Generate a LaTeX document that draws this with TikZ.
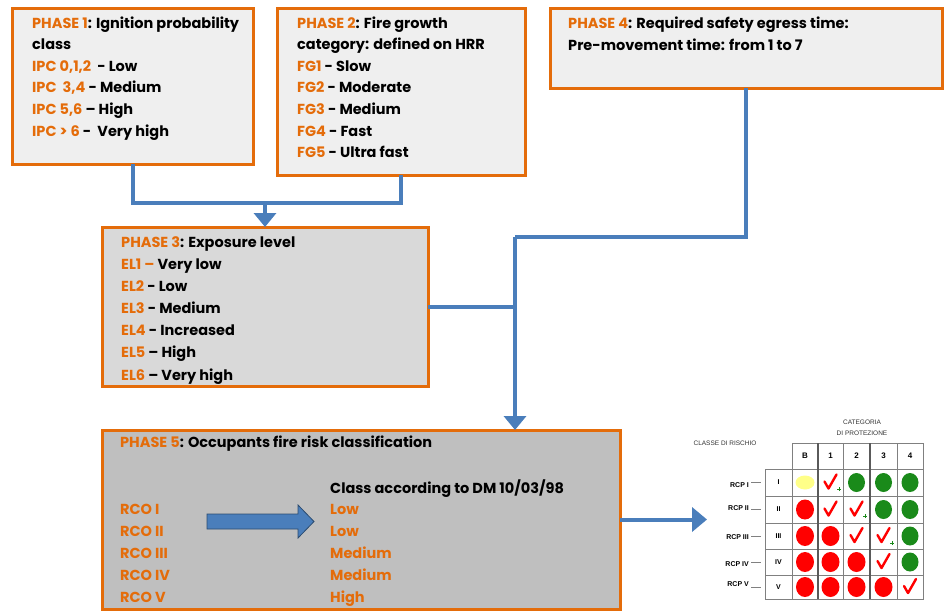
\documentclass[tikz,border=0pt]{standalone}
\usepackage{fontspec}
\setmainfont{Poppins}
\newfontfamily\tabfont{Liberation Sans}
\usetikzlibrary{arrows.meta}
\definecolor{orng}{HTML}{E46C0A}
\definecolor{blu}{HTML}{4A7EBB}
\definecolor{lgray}{HTML}{EFEFEF}
\definecolor{mgray}{HTML}{D9D9D9}
\definecolor{dgray}{HTML}{BFBFBF}
\definecolor{grn}{HTML}{1A8A1A}
\definecolor{ylw}{HTML}{FFFF88}
\definecolor{gridc}{HTML}{808080}
\tikzset{
  box/.style={draw=orng, line width=3pt, anchor=north west, inner sep=0pt, outer sep=0pt},
  conn/.style={draw=blu, line width=4pt},
  arr/.style={conn, -{Triangle[width=22pt,length=14pt]}},
  tx/.style={anchor=base west, inner sep=0pt, font=\fontsize{14.5}{16}\selectfont\bfseries},
  otx/.style={tx, text=orng},
  tsm/.style={inner sep=0pt, font=\tabfont\fontsize{6.5}{7}\selectfont, text=black!80},
  tbd/.style={inner sep=0pt, font=\tabfont\fontsize{8}{9}\selectfont\bfseries},
  tlab/.style={inner sep=0pt, font=\tabfont\fontsize{7}{8}\selectfont\bfseries},
  redtick/.pic={\draw[red, line width=2.4pt, line cap=round, line join=round] (-6pt,1pt) -- (-2pt,-6pt) -- (6pt,8pt);},
  plusmark/.pic={\draw[grn, line width=0.9pt] (-2pt,0pt) -- (2pt,0pt) (0pt,-2pt) -- (0pt,2pt);},
}
\begin{document}
\begin{tikzpicture}[x=1pt,y=-1pt]
\useasboundingbox (0,0) rectangle (944,611);

% boxes
\node[box, fill=lgray, minimum width=241pt, minimum height=156pt] (b1) at (12,8) {};
\node[box, fill=lgray, minimum width=248pt, minimum height=167pt] (b2) at (277,8) {};
\node[box, fill=lgray, minimum width=392pt, minimum height=80pt] (b4) at (550,8) {};
\node[box, fill=mgray, minimum width=326pt, minimum height=159pt] (b3) at (102,227) {};
\node[box, fill=dgray, minimum width=518pt, minimum height=179pt] (b5) at (102,430) {};

% phase 1 text
\node[tx] (p1a) at (32,28) {\textcolor{orng}{PHASE 1}: Ignition probability};
\node[tx] (p1b) at (32,49.6) {class};
\node[tx] (p1c) at (32,71.2) {\textcolor{orng}{IPC 0,1,2}\ \ - Low};
\node[tx] (p1d) at (32,92.8) {\textcolor{orng}{IPC\ \ 3,4} - Medium};
\node[tx] (p1e) at (32,114.4) {\textcolor{orng}{IPC 5,6} – High};
\node[tx] (p1f) at (32,136) {\textcolor{orng}{IPC > 6} -\ \ Very high};

% phase 2 text
\node[tx] (p2a) at (297,28) {\textcolor{orng}{PHASE 2}: Fire growth};
\node[tx] (p2b) at (297,49.6) {category: defined on HRR};
\node[tx] (p2c) at (297,71.2) {\textcolor{orng}{FG1} - Slow};
\node[tx] (p2d) at (297,92.8) {\textcolor{orng}{FG2} - Moderate};
\node[tx] (p2e) at (297,114.4) {\textcolor{orng}{FG3} - Medium};
\node[tx] (p2f) at (297,136) {\textcolor{orng}{FG4} - Fast};
\node[tx] (p2g) at (297,157.6) {\textcolor{orng}{FG5} - Ultra fast};

% phase 4 text
\node[tx] (p4a) at (568,28) {\textcolor{orng}{PHASE 4}: Required safety egress time:};
\node[tx] (p4b) at (568,50) {Pre-movement time: from 1 to 7};

% phase 3 text
\node[tx] (p3a) at (121,247) {\textcolor{orng}{PHASE 3}: Exposure level};
\node[tx] (p3b) at (121,269) {\textcolor{orng}{EL1 –} Very low};
\node[tx] (p3c) at (121,291) {\textcolor{orng}{EL2} - Low};
\node[tx] (p3d) at (121,313) {\textcolor{orng}{EL3} - Medium};
\node[tx] (p3e) at (121,335) {\textcolor{orng}{EL4} - Increased};
\node[tx] (p3f) at (121,357) {\textcolor{orng}{EL5} – High};
\node[tx] (p3g) at (121,380) {\textcolor{orng}{EL6} – Very high};

% phase 5 text
\node[tx] (p5a) at (120,447) {\textcolor{orng}{PHASE 5}: Occupants fire risk classification};
\node[tx] (p5b) at (330,493) {Class according to DM 10/03/98};
\node[otx] (r1) at (120,514) {RCO I};
\node[otx] (r2) at (120,536) {RCO II};
\node[otx] (r3) at (120,558) {RCO III};
\node[otx] (r4) at (120,580) {RCO IV};
\node[otx] (r5) at (120,602) {RCO V};
\node[otx] (c1) at (330,514) {Low};
\node[otx] (c2) at (330,536) {Low};
\node[otx] (c3) at (330,558) {Medium};
\node[otx] (c4) at (330,580) {Medium};
\node[otx] (c5) at (330,602) {High};

% block arrow
\filldraw[fill=blu, draw=blu!60!black, line width=0.8pt, line join=miter]
  (207,514) -- (298,514) -- (298,505) -- (314,521.5) -- (298,538) -- (298,529) -- (207,529) -- cycle;

% connectors
\coordinate (j1) at (265,203);
\draw[conn] (b1.south) |- (j1) -| (b2.south);
\draw[arr] (j1) -- (b3.north);
\coordinate (j2) at (515,237);
\draw[conn] (b4.south) |- (j2);
\draw[arr] (j2) -- (j2 |- b5.north);
\draw[conn] (b3.east) -- (b3.east -| j2);
\coordinate (tabin) at (707,519.5);
\draw[arr, -{Triangle[width=24pt,length=15pt]}] (b5.east) -- (tabin);

% table picture
\node[tsm] (cat1) at (862,422) {CATEGORIA};
\node[tsm] (cat2) at (862,433) {DI PROTEZIONE};
\node[tsm] (cls) at (725,443) {CLASSE DI RISCHIO};
\fill[white] (765,443) rectangle (923,599);
\draw[gridc, line width=0.6pt] (792,443) rectangle (923,599) (765,469) rectangle (923,599);
\foreach \yy in {496,523,549,575} \draw[gridc, line width=0.6pt] (765,\yy) -- (923,\yy);
\foreach \xx in {843,897} \draw[gridc, line width=0.6pt] (\xx,443) -- (\xx,599);
\foreach \xx in {818,870} \draw[gridc!70!black, line width=1.1pt] (\xx,443) -- (\xx,599);
\node[tbd] (hB) at (805,456) {B};
\node[tbd] (h1) at (830.5,456) {1};
\node[tbd] (h2) at (856.5,456) {2};
\node[tbd] (h3) at (883.5,456) {3};
\node[tbd] (h4) at (910,456) {4};
\foreach \n/\lab/\yy/\ly in {1/I/482.5/485,2/II/509.5/508,3/III/536/537,4/IV/562/564,5/V/587/584}{
  \node[tlab] (rom\n) at (778.5,\yy) {\lab};
  \node[tlab, anchor=east] (rcp\n) at (749,\ly) {RCP \lab};
  \draw[gridc, line width=0.6pt] (751,\yy) -- (761,\yy);
}
% cells
\fill[ylw] (805,482.5) ellipse [x radius=9.5pt, y radius=7pt];
\foreach \cx/\cy in {856.5/482.5,883.5/482.5,910/482.5,883.5/509.5,910/509.5,910/536,910/562}
  \fill[grn] (\cx,\cy) ellipse [x radius=8.5pt, y radius=9.5pt];
\foreach \cx/\cy in {805/509.5,805/536,830.5/536,805/562,830.5/562,856.5/562,805/587,830.5/587,856.5/587,883.5/587}
  \fill[red] (\cx,\cy) ellipse [x radius=9pt, y radius=10pt];
\foreach \cx/\cy in {830.5/482.5,830.5/509.5,856.5/509.5,856.5/536,883.5/536,883.5/562,910/587}
  \pic at (\cx,\cy) {redtick};
\foreach \cx/\cy in {839/489,865/516,892/543}
  \pic at (\cx,\cy) {plusmark};
\end{tikzpicture}
\end{document}
